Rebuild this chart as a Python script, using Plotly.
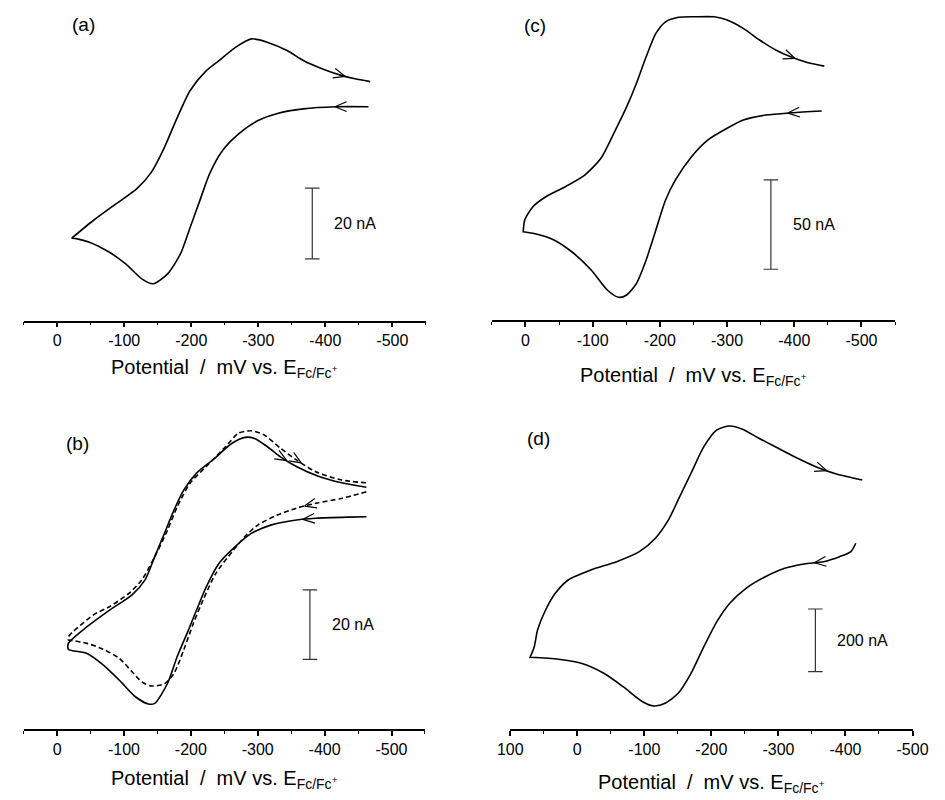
import numpy as np
import plotly.graph_objects as go

FONT = "Liberation Sans, Arial, Helvetica, sans-serif"
W, H = 945, 800

# ---------------- data: potential E (mV vs Fc/Fc+) and current I (nA) ----------------
# (a) sweep toward negative potentials (upper trace) and return sweep (lower trace)
a_neg_E = [-21.7, -53.9, -87.7, -118.9, -140.6, -160.0, -179.2, -198.4, -222.5, -241.8,
           -265.9, -290.0, -314.0, -342.9, -367.1, -396.0, -424.9, -444.1, -466.8]
a_neg_I = [23.3, 28.3, 33.0, 37.3, 42.0, 49.0, 57.5, 65.1, 70.7, 73.6,
           77.3, 79.7, 78.7, 76.4, 73.6, 71.2, 69.3, 68.4, 67.6]
a_pos_E = [-464.3, -415.2, -367.1, -328.5, -299.6, -270.7, -246.7, -227.3, -212.9, -198.4,
           -184.0, -164.7, -143.1, -126.2, -102.2, -78.0, -49.1, -29.9, -21.7]
a_pos_I = [60.5, 60.5, 59.9, 58.6, 56.6, 52.8, 48.1, 41.5, 34.0, 26.4,
           18.9, 13.2, 10.4, 11.8, 16.0, 19.3, 22.1, 23.1, 23.3]

# (b) solid and dashed voltammograms
b1_neg_E = [-16.8, -44.8, -78.5, -112.1, -131.5, -146.0, -160.4, -174.9, -189.3, -208.5,
            -232.7, -261.6, -280.8, -295.2, -314.5, -333.8, -357.8, -391.6, -425.3, -462.4]
b1_neg_I = [24.7, 29.5, 34.3, 38.7, 43.0, 49.7, 56.4, 63.2, 68.9, 73.8,
            77.6, 82.4, 84.1, 83.8, 81.4, 78.5, 75.7, 72.8, 71.0, 69.7]
b1_pos_E = [-462.4, -435.0, -386.7, -357.8, -319.4, -290.5, -266.3, -242.2, -223.0, -208.5,
            -196.5, -179.6, -165.2, -146.0, -136.3, -117.1, -92.9, -68.8, -44.8, -16.8]
b1_pos_I = [61.2, 61.1, 60.8, 60.3, 58.8, 56.4, 52.6, 47.8, 41.0, 34.3,
            28.6, 20.9, 13.2, 7.4, 7.2, 9.3, 14.1, 18.5, 21.8, 23.0]
b2_neg_E = [-16.8, -54.3, -78.5, -107.4, -126.6, -146.0, -165.2, -179.6, -198.8, -223.0,
            -251.9, -271.1, -290.5, -309.7, -333.8, -357.8, -386.7, -425.3, -462.4]
b2_neg_I = [26.6, 32.9, 35.3, 39.1, 43.0, 49.7, 57.4, 64.1, 70.9, 75.7,
            81.4, 85.3, 86.0, 84.8, 81.0, 77.6, 74.2, 71.8, 71.0]
b2_pos_E = [-462.4, -425.3, -386.7, -357.8, -328.9, -300.0, -280.8, -261.6, -237.4, -218.2,
            -203.8, -189.3, -174.9, -160.4, -141.0, -126.6, -112.1, -92.9, -68.8, -44.8,
            -23.1, -16.8]
b2_pos_I = [68.4, 66.5, 65.1, 63.7, 61.7, 58.8, 55.5, 51.1, 44.9, 37.2,
            30.5, 22.8, 16.1, 13.0, 12.4, 13.6, 16.5, 20.4, 23.0, 24.7,
            25.5, 25.7]

# (c)
c_neg_E = [3.3, 1.0, -11.1, -30.3, -59.2, -88.2, -112.3, -131.5, -150.7, -165.2,
           -179.6, -194.1, -208.5, -227.9, -251.9, -280.8, -300.1, -324.1, -348.3, -372.4,
           -396.4, -420.5, -444.7]
c_neg_I = [49.4, 56.0, 63.4, 69.0, 74.6, 81.1, 90.5, 104.5, 119.4, 132.5,
           147.3, 160.4, 166.9, 169.4, 169.7, 169.7, 167.9, 163.2, 156.7, 151.1,
           147.0, 144.0, 142.1]
c_pos_E = [-440.8, -396.4, -357.9, -324.1, -300.1, -271.2, -247.1, -223.0, -208.5, -194.1,
           -179.6, -165.2, -150.7, -138.7, -121.8, -97.8, -68.9, -40.0, -11.1, 3.3]
c_pos_I = [117.0, 116.0, 114.7, 111.9, 107.3, 100.7, 91.4, 78.3, 67.2, 50.4,
           33.6, 20.5, 14.0, 12.7, 16.8, 28.0, 38.2, 45.2, 48.5, 49.4]

# (d)
d_neg_E = [70.4, 64.2, 59.3, 47.3, 32.8, 13.6, -20.2, -58.7, -92.5, -116.5,
           -135.9, -150.4, -169.6, -188.8, -208.2, -227.4, -246.6, -270.8, -299.7, -328.6,
           -357.5, -386.4, -425.0]
d_neg_I = [228.8, 262.7, 316.0, 379.8, 433.1, 475.6, 507.5, 534.0, 565.9, 608.7,
           667.1, 730.9, 816.1, 901.0, 954.3, 967.1, 956.6, 927.9, 895.9, 864.0,
           835.3, 813.9, 794.8]
d_pos_E = [-415.3, -408.1, -391.2, -367.2, -338.3, -309.4, -280.5, -251.6, -227.4, -208.2,
           -188.8, -169.6, -150.4, -131.0, -114.2, -97.3, -68.4, -39.5, -5.8, 28.0, 70.4]
d_pos_I = [592.7, 565.9, 550.0, 534.0, 526.7, 512.9, 486.1, 449.1, 401.2, 342.5,
           262.7, 177.8, 113.9, 82.0, 73.4, 87.1, 135.0, 177.8, 209.7, 222.5, 228.8]

# sweep-direction arrows: potential at which each arrow sits on its trace
a_arrow_neg, a_arrow_pos = -429.6, -414.3
b1_arrow_neg, b1_arrow_pos = -343.4, -367.5
b2_arrow_neg, b2_arrow_pos = -365.0, -370.0
c_arrow_neg, c_arrow_pos = -401.3, -390.6
d_arrow_neg, d_arrow_pos = -372.0, -353.6

# current scale bars: (potential, lower current, length in nA)
a_bar = (-380.5, 17.45, 20)
b_bar = (-378.0, 20.1, 20)
c_bar = (-365.2, 28.4, 50)
d_bar = (-355.1, 182.9, 200)

ticks_ac = [0, -100, -200, -300, -400, -500]
ticks_d = [100, 0, -100, -200, -300, -400, -500]
tick_text_ac = ["0", "-100", "-200", "-300", "-400", "-500"]
tick_text_d = ["100", "0", "-100", "-200", "-300", "-400", "-500"]

# ---------------- layout geometry (pixels) ----------------
panels = [
    dict(name="(a)", x0=11, x1=426, ytop=0, ybot=320.5, xr=(50, -550), ymax=90.7,
         ticks=ticks_ac, ticktext=tick_text_ac, label=(59, 24), title_y=369),
    dict(name="(b)", x0=11, x1=425, ytop=410, ybot=729, xr=(50, -550), ymax=92.0,
         ticks=ticks_ac, ticktext=tick_text_ac, label=(53, 443), title_y=779),
    dict(name="(c)", x0=494, x1=910, ytop=0, ybot=320, xr=(50, -550), ymax=179.1,
         ticks=ticks_ac, ticktext=tick_text_ac, label=(525, 25), title_y=376),
    dict(name="(d)", x0=513, x1=928, ytop=410, ybot=729, xr=(100, -500), ymax=1018.0,
         ticks=ticks_d, ticktext=tick_text_d, label=(528, 438), title_y=783),
]
for p in panels:
    p["sx"] = (p["x1"] - p["x0"]) / (p["xr"][0] - p["xr"][1])   # px per mV
    p["sy"] = (p["ybot"] - p["ytop"]) / p["ymax"]               # px per nA

LINE_W = 1.6
fig = go.Figure()


def loop(pos_E, pos_I, neg_E, neg_I):
    """Return sweep followed by the sweep toward negative potentials."""
    return list(pos_E) + list(neg_E), list(pos_I) + list(neg_I)


def chevron(E_tip, E_arr, I_arr, toward_negative, p, length=13.0, half=22.0):
    order = np.argsort(E_arr)
    Es, Is = np.asarray(E_arr)[order], np.asarray(I_arr)[order]
    I_tip = float(np.interp(E_tip, Es, Is))
    step = 8.0 if toward_negative else -8.0
    E_back = E_tip + step
    I_back = float(np.interp(E_back, Es, Is))
    # pixel-space direction (x grows as E decreases, y grows with I)
    dx = -(E_tip - E_back) * p["sx"]
    dy = (I_tip - I_back) * p["sy"]
    n = np.hypot(dx, dy)
    ux, uy = dx / n, dy / n
    xs, ys = [], []
    for sgn in (1, -1):
        a = np.radians(half) * sgn
        rx = ux * np.cos(a) - uy * np.sin(a)
        ry = ux * np.sin(a) + uy * np.cos(a)
        xs.append(E_tip + rx * length / p["sx"])
        ys.append(I_tip - ry * length / p["sy"])
    return [xs[0], E_tip, xs[1]], [ys[0], I_tip, ys[1]]


curves = {
    0: [(a_pos_E, a_pos_I, a_neg_E, a_neg_I, "solid", a_arrow_pos, a_arrow_neg)],
    1: [(b1_pos_E, b1_pos_I, b1_neg_E, b1_neg_I, "solid", b1_arrow_pos, b1_arrow_neg),
        (b2_pos_E, b2_pos_I, b2_neg_E, b2_neg_I, "5px,3px", b2_arrow_pos, b2_arrow_neg)],
    2: [(c_pos_E, c_pos_I, c_neg_E, c_neg_I, "solid", c_arrow_pos, c_arrow_neg)],
    3: [(d_pos_E, d_pos_I, d_neg_E, d_neg_I, "solid", d_arrow_pos, d_arrow_neg)],
}
bars = [a_bar, b_bar, c_bar, d_bar]

annotations = []
for i, p in enumerate(panels):
    k = "" if i == 0 else str(i + 1)
    xa, ya = "x" + k, "y" + k
    for pos_E, pos_I, neg_E, neg_I, dash, ar_pos, ar_neg in curves[i]:
        E, I = loop(pos_E, pos_I, neg_E, neg_I)
        fig.add_trace(go.Scatter(x=E, y=I, mode="lines", xaxis=xa, yaxis=ya,
                                 line=dict(color="black", width=LINE_W, dash=dash,
                                           shape="spline", smoothing=0.7),
                                 hoverinfo="skip"))
        for E_tip, E_arr, I_arr, neg in ((ar_neg, neg_E, neg_I, True),
                                         (ar_pos, pos_E, pos_I, False)):
            cx, cy = chevron(E_tip, E_arr, I_arr, neg, p)
            fig.add_trace(go.Scatter(x=cx, y=cy, mode="lines", xaxis=xa, yaxis=ya,
                                     line=dict(color="black", width=1.2),
                                     hoverinfo="skip"))
    # scale bar
    bE, blo, blen = bars[i]
    bhi = blo + blen
    cap = 7.5 / p["sx"]
    fig.add_trace(go.Scatter(
        x=[bE, bE, None, bE - cap, bE + cap, None, bE - cap, bE + cap],
        y=[blo, bhi, None, blo, blo, None, bhi, bhi],
        mode="lines", xaxis=xa, yaxis=ya,
        line=dict(color="#333333", width=1.2), hoverinfo="skip"))
    annotations.append(dict(x=bE, y=(blo + bhi) / 2, xref=xa, yref=ya,
                            text=f"{blen} nA", showarrow=False, xanchor="left",
                            yanchor="middle", xshift=20,
                            font=dict(family=FONT, size=16, color="black")))
    # panel letter
    annotations.append(dict(x=p["label"][0] / W, y=1 - p["label"][1] / H,
                            xref="paper", yref="paper", text=p["name"],
                            showarrow=False, xanchor="left", yanchor="middle",
                            font=dict(family=FONT, size=19, color="black")))
    # axis title
    annotations.append(dict(x=(p["x0"] + p["x1"]) / 2 / W, y=1 - p["title_y"] / H,
                            xref="paper", yref="paper",
                            text="Potential\u00a0 /\u00a0 mV vs. E<sub>Fc/Fc<sup>+</sup></sub>",
                            showarrow=False, xanchor="center", yanchor="middle",
                            font=dict(family=FONT, size=20, color="black")))

    fig.layout["xaxis" + k] = dict(
        domain=[p["x0"] / W, p["x1"] / W], range=list(p["xr"]), anchor=ya,
        showline=True, linecolor="black", linewidth=1.5,
        ticks="outside", ticklen=5, tickwidth=1.5, tickcolor="black",
        tickvals=p["ticks"], ticktext=p["ticktext"],
        tickfont=dict(family=FONT, size=16, color="black"),
        minor=dict(ticks="outside", ticklen=3, tickwidth=1.2, tickcolor="black",
                   dtick=50, tick0=0),
        showgrid=False, zeroline=False)
    fig.layout["yaxis" + k] = dict(
        domain=[1 - p["ybot"] / H, 1 - p["ytop"] / H], range=[0, p["ymax"]],
        anchor=xa, visible=False, showgrid=False, zeroline=False)

fig.update_layout(width=W, height=H, margin=dict(l=0, r=0, t=0, b=0),
                  paper_bgcolor="white", plot_bgcolor="white", showlegend=False,
                  annotations=annotations)
fig.write_html("out.html")
